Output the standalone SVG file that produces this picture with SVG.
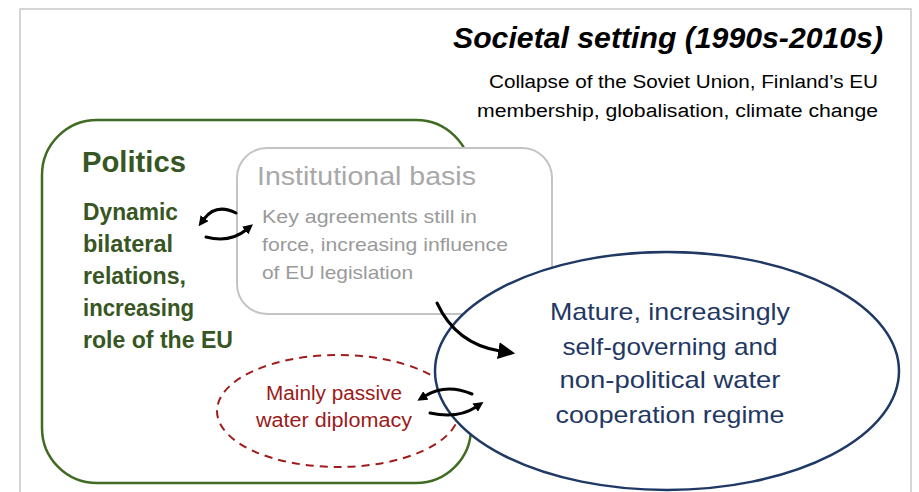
<svg xmlns="http://www.w3.org/2000/svg" width="919" height="492" viewBox="0 0 919 492">
<style>
  .frame{fill:#ffffff;stroke:#c8c8c8;stroke-width:1.5}
  .title{font-family:"Liberation Sans",Arial,sans-serif;font-weight:bold;font-style:italic;font-size:30px;fill:#000}
  .sub{font-family:"Liberation Sans",Arial,sans-serif;font-size:18px;fill:#000}
  .pol{font-family:"Liberation Sans",Arial,sans-serif;font-weight:bold;fill:#375623}
  .inst{font-family:"Liberation Sans",Arial,sans-serif;fill:#9a9a9a}
  .reg{font-family:"Liberation Sans",Arial,sans-serif;font-size:24px;fill:#1f3864}
  .dip{font-family:"Liberation Sans",Arial,sans-serif;font-size:20px;fill:#9c1a1a}
  .arr{fill:none;stroke:#000;stroke-width:3;stroke-linecap:round}
</style>
<defs>
  <marker id="ah" viewBox="0 0 10 10" refX="1" refY="5" markerWidth="10" markerHeight="10" orient="auto" markerUnits="userSpaceOnUse">
    <path d="M0,0 L10,5 L0,10 z" fill="#000"/>
  </marker>
  <marker id="ahBig" viewBox="0 0 10 10" refX="1" refY="5" markerWidth="17" markerHeight="20" orient="auto" markerUnits="userSpaceOnUse">
    <path d="M0,0 L10,5 L0,10 z" fill="#000"/>
  </marker>
</defs>
<rect class="frame" x="20" y="9" width="891" height="500"/>

<g id="setting">
  <text class="title" x="883" y="48" text-anchor="end" textLength="430" lengthAdjust="spacingAndGlyphs">Societal setting (1990s-2010s)</text>
  <text class="sub" x="878" y="88" text-anchor="end" textLength="389" lengthAdjust="spacingAndGlyphs">Collapse of the Soviet Union, Finland’s EU</text>
  <text class="sub" x="878" y="117" text-anchor="end" textLength="401" lengthAdjust="spacingAndGlyphs">membership, globalisation, climate change</text>
</g>

<g id="politics">
  <rect x="42" y="120" width="429" height="363" rx="55" ry="55" fill="#fff" stroke="#3f6b22" stroke-width="2.5"/>
  <text class="pol" x="82" y="172" font-size="29" textLength="104" lengthAdjust="spacingAndGlyphs">Politics</text>
  <text class="pol" x="83" y="220" font-size="23" textLength="95" lengthAdjust="spacingAndGlyphs">Dynamic</text>
  <text class="pol" x="83" y="252" font-size="23" textLength="90" lengthAdjust="spacingAndGlyphs">bilateral</text>
  <text class="pol" x="83" y="284" font-size="23" textLength="103" lengthAdjust="spacingAndGlyphs">relations,</text>
  <text class="pol" x="83" y="316" font-size="23" textLength="111" lengthAdjust="spacingAndGlyphs">increasing</text>
  <text class="pol" x="83" y="348" font-size="23" textLength="150" lengthAdjust="spacingAndGlyphs">role of the EU</text>
</g>

<g id="institutional">
  <rect x="237" y="148" width="315" height="166" rx="30" ry="30" fill="#fff" stroke="#c4c4c4" stroke-width="2"/>
  <text class="inst" x="257" y="185" font-size="26" style="fill:#a8a8a8" textLength="219" lengthAdjust="spacingAndGlyphs">Institutional basis</text>
  <text class="inst" x="262" y="223" font-size="19" textLength="215" lengthAdjust="spacingAndGlyphs">Key agreements still  in</text>
  <text class="inst" x="262" y="251" font-size="19" textLength="246" lengthAdjust="spacingAndGlyphs">force, increasing influence</text>
  <text class="inst" x="262" y="279" font-size="19" textLength="151" lengthAdjust="spacingAndGlyphs">of EU legislation</text>
</g>

<g id="diplomacy">
  <ellipse cx="338" cy="411" rx="121" ry="56" fill="#fff" stroke="#a01c1c" stroke-width="2" stroke-dasharray="8 6"/>
  <text class="dip" x="334" y="400" text-anchor="middle" textLength="136" lengthAdjust="spacingAndGlyphs">Mainly passive</text>
  <text class="dip" x="334" y="427" text-anchor="middle" textLength="156" lengthAdjust="spacingAndGlyphs">water diplomacy</text>
</g>

<g id="regime">
  <ellipse cx="667" cy="371" rx="232" ry="119" fill="#fff" stroke="#1f3864" stroke-width="2.5"/>
  <text class="reg" x="670" y="320" text-anchor="middle" textLength="240" lengthAdjust="spacingAndGlyphs">Mature, increasingly</text>
  <text class="reg" x="670" y="355" text-anchor="middle" textLength="215" lengthAdjust="spacingAndGlyphs">self-governing and</text>
  <text class="reg" x="670" y="388" text-anchor="middle" textLength="221" lengthAdjust="spacingAndGlyphs">non-political water</text>
  <text class="reg" x="670" y="423" text-anchor="middle" textLength="229" lengthAdjust="spacingAndGlyphs">cooperation regime</text>
</g>

<g id="connectors">
  <path class="arr" d="M236 213 Q216 203 204 219" marker-end="url(#ah)"/>
  <path class="arr" d="M206 237 Q230 243 246 230" marker-end="url(#ah)"/>
  <path class="arr" d="M472 394 Q446 383 425 396" marker-end="url(#ah)"/>
  <path class="arr" d="M430 413 Q458 419 476 407" marker-end="url(#ah)"/>
  <path class="arr" d="M437 303 Q456 344 500 351" stroke-width="4" marker-end="url(#ahBig)"/>
</g>
</svg>
